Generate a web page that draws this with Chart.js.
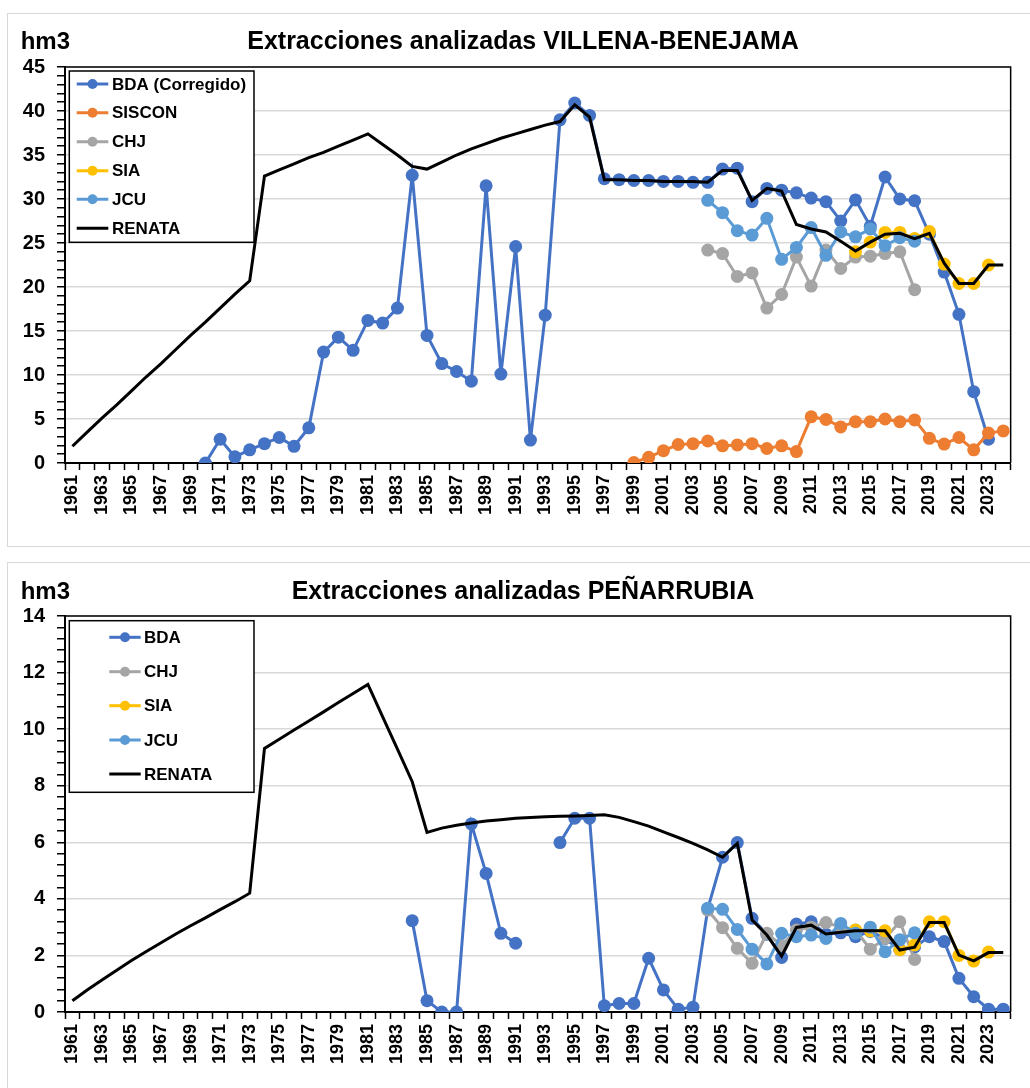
<!DOCTYPE html>
<html><head><meta charset="utf-8">
<script src="https://cdn.jsdelivr.net/npm/chart.js@4.4.1/dist/chart.umd.min.js"></script>
<style>
html,body{margin:0;padding:0;background:#fff;}
body{width:1030px;height:1088px;position:relative;overflow:hidden;}
.frame{position:absolute;border:1.5px solid #d9d9d9;box-sizing:border-box;}
#f1{left:7px;top:13px;width:1040px;height:534px;}
#f2{left:7px;top:562px;width:1040px;height:560px;}
canvas{position:absolute;}
#c1{left:8px;top:14px;}
#c2{left:8px;top:563px;}
</style></head><body>
<div class="frame" id="f1"></div><div class="frame" id="f2"></div>
<canvas id="c1" width="1022" height="532"></canvas>
<canvas id="c2" width="1022" height="525"></canvas>
<script>
// ---------- categories ----------
const years = ['1961','1962','1963','1964','1965','1966','1967','1968','1969','1970',
  '1971','1972','1973','1974','1975','1976','1977','1978','1979','1980',
  '1981','1982','1983','1984','1985','1986','1987','1988','1989','1990',
  '1991','1992','1993','1994','1995','1996','1997','1998','1999','2000',
  '2001','2002','2003','2004','2005','2006','2007','2008','2009','2010',
  '2011','2012','2013','2014','2015','2016','2017','2018','2019','2020',
  '2021','2022','2023','2024'];

// ---------- VILLENA-BENEJAMA series (value lists start at the given year) ----------
const vbTitle = 'Extracciones analizadas VILLENA-BENEJAMA';
const vbYTicksMax = 45;
const vbBDAStart = 1970;
const vbBDA = [0.0, 2.7, 0.7, 1.5, 2.2, 2.9, 1.9, 4.0, 12.6, 14.3, 12.8, 16.2, 15.9, 17.6, 32.7,
  14.5, 11.3, 10.4, 9.3, 31.5, 10.1, 24.6, 2.6, 16.8, 39.0, 40.9, 39.5, 32.3, 32.2, 32.1,
  32.1, 32.0, 32.0, 31.9, 31.9, 33.4, 33.5, 29.7, 31.2, 31.0, 30.7, 30.1, 29.7, 27.5, 29.9,
  26.9, 32.5, 30.0, 29.8, 26.0, 21.7, 16.9, 8.1, 2.7];
const vbSISCONStart = 1999;
const vbSISCON = [0.05, 0.65, 1.4, 2.1, 2.2, 2.5, 1.95, 2.05, 2.2, 1.65, 1.95, 1.3, 5.25, 4.95,
  4.1, 4.7, 4.7, 5.0, 4.7, 4.9, 2.8, 2.15, 2.9, 1.5, 3.4, 3.65];
const vbCHJStart = 2004;
const vbCHJ = [24.2, 23.8, 21.2, 21.6, 17.6, 19.15, 23.4, 20.1, 24.2, 22.1, 23.4, 23.5, 23.8, 24.0, 19.7];
const vbSIAStart = 2014;
const vbSIA = [24.0, 25.1, 26.2, 26.2, 25.5, 26.3, 22.6, 20.4, 20.4, 22.5];
const vbJCUStart = 2004;
const vbJCU = [29.85, 28.45, 26.4, 25.9, 27.8, 23.15, 24.5, 26.75, 23.6, 26.25, 25.7, 26.6, 24.7, 25.6, 25.2];
const vbRENATAStart = 1961;
const vbRENATA = [1.9, 3.5, 5.1, 6.6, 8.2, 9.8, 11.3, 12.9, 14.5, 16.0, 17.6, 19.2, 20.7,
  32.6, 33.3, 34.0, 34.7, 35.3, 36.0, 36.7, 37.4, 36.2, 35.0, 33.7,
  33.4, 34.2, 35.0, 35.7, 36.3, 36.9, 37.4, 37.9, 38.4, 38.8, 40.7, 39.3,
  32.2, 32.2, 32.1, 32.1, 32.0, 32.0, 32.0, 31.9,
  33.25, 33.25, 29.85, 31.2, 30.9, 27.1, 26.6, 26.25, 25.2, 24.1, 25.1, 26.0, 26.1, 25.5, 26.1,
  22.7, 20.4, 20.4, 22.5, 22.5];

// ---------- PEÑARRUBIA series ----------
const pnTitle = 'Extracciones analizadas PEÑARRUBIA';
const pnYTicksMax = 14;
const pnBDAStart = 1984;
const pnBDA = [3.23, 0.4, 0, 0, 6.65, 4.9, 2.78, 2.43, null, null, 5.99, 6.85, 6.85, 0.22, 0.3, 0.3,
  1.9, 0.78, 0.1, 0.17, 3.65, 5.47, 5.99, 3.31, 2.75, 1.93, 3.11, 3.19, 2.75, 2.8, 2.66, 2.85,
  2.6, 2.2, 2.3, 2.66, 2.49, 1.19, 0.54, 0.1, 0.1];
const pnCHJStart = 2004;
const pnCHJ = [3.6, 2.98, 2.25, 1.72, 2.78, 2.35, 2.9, 3.0, 3.16, 3.0, 2.9, 2.22, 2.6, 3.19, 1.86];
const pnSIAStart = 2014;
const pnSIA = [2.9, 2.87, 2.87, 2.2, 2.37, 3.19, 3.19, 2.0, 1.8, 2.12];
const pnJCUStart = 2004;
const pnJCU = [3.67, 3.63, 2.92, 2.22, 1.7, 2.78, 2.66, 2.72, 2.6, 3.13, 2.78, 3.0, 2.13, 2.55, 2.8];
const pnRENATAStart = 1961;
const pnRENATA = [0.40, 0.78, 1.13, 1.48, 1.82, 2.14, 2.45, 2.76, 3.05, 3.33, 3.62, 3.90, 4.20,
  9.32, 9.64, 9.97, 10.29, 10.61, 10.94, 11.26, 11.58, 10.43, 9.29, 8.14,
  6.35, 6.5, 6.6, 6.68, 6.75, 6.8, 6.85, 6.88, 6.9, 6.92, 6.93, 6.95, 6.97,
  6.88, 6.73, 6.57, 6.37, 6.17, 5.96, 5.73, 5.47,
  5.96, 3.25, 2.72, 1.98, 2.99, 3.07, 2.76, 2.82, 2.87, 2.87, 2.87, 2.19, 2.29, 3.16, 3.16,
  2.01, 1.81, 2.1, 2.1];

// ---------- helpers ----------
const FONT = "'Liberation Sans', Arial, sans-serif";
function place(start, vals) {
  const out = years.map(() => null);
  const off = years.indexOf(String(start));
  vals.forEach((v, i) => { out[off + i] = v; });
  return out;
}
function series(label, color, data, order) {
  return {
    label, data, order,
    borderColor: color, backgroundColor: color,
    borderWidth: 3, tension: 0, spanGaps: false,
    pointRadius: 6.5, pointHoverRadius: 6.5, pointBorderWidth: 0,
    pointBackgroundColor: color
  };
}
function renata(data) {
  return { label: 'RENATA', data, order: 0, borderColor: '#000', backgroundColor: '#000',
    borderWidth: 3, tension: 0, pointRadius: 0, pointHoverRadius: 0, isLineOnly: true };
}

function decorPlugin(cfg) {
  return {
    id: 'decor',
    beforeDatasetsDraw(chart) {
      const a = chart.chartArea, ctx = chart.ctx;
      ctx.save();
      ctx.strokeStyle = '#000'; ctx.lineWidth = 1.5;
      ctx.beginPath();
      ctx.moveTo(a.left, a.top); ctx.lineTo(a.right, a.top); ctx.lineTo(a.right, a.bottom);
      ctx.stroke();
      ctx.restore();
    },
    afterDraw(chart) {
      const ctx = chart.ctx;
      ctx.save();
      ctx.fillStyle = '#000';
      ctx.textBaseline = 'alphabetic';
      ctx.font = 'bold 25px ' + FONT;
      ctx.textAlign = 'center';
      ctx.fillText(cfg.title, 515, cfg.titleY);
      ctx.font = 'bold 24px ' + FONT;
      ctx.textAlign = 'left';
      ctx.fillText('hm3', 12.7, cfg.titleY);
      // legend
      const L = cfg.legend;
      ctx.fillStyle = '#fff';
      ctx.fillRect(L.x0, L.y0, L.x1 - L.x0, L.y1 - L.y0);
      ctx.strokeStyle = '#000'; ctx.lineWidth = 1.5;
      ctx.strokeRect(L.x0, L.y0, L.x1 - L.x0, L.y1 - L.y0);
      ctx.font = 'bold 17px ' + FONT;
      ctx.textBaseline = 'middle';
      chart.data.datasets.forEach((ds, i) => {
        const y = L.rows[i];
        ctx.strokeStyle = ds.borderColor;
        ctx.lineWidth = 3;
        ctx.beginPath(); ctx.moveTo(L.lx0, y); ctx.lineTo(L.lx1, y); ctx.stroke();
        if (!ds.isLineOnly) {
          ctx.fillStyle = ds.borderColor;
          ctx.beginPath(); ctx.arc((L.lx0 + L.lx1) / 2, y, 5, 0, Math.PI * 2); ctx.fill();
        }
        ctx.fillStyle = '#000';
        ctx.fillText(ds.label, L.tx, y + 1);
      });
      ctx.restore();
    }
  };
}

function makeChart(id, datasets, yMax, step, majorEvery, xHeight, deco) {
  const isMajor = (v) => Math.abs(v / majorEvery - Math.round(v / majorEvery)) < 1e-6;
  return new Chart(document.getElementById(id), {
    type: 'line',
    data: { labels: years, datasets },
    options: {
      responsive: false, animation: false, events: [],
      layout: { padding: { top: 53, left: 0, right: 17, bottom: 0 } },
      plugins: { legend: { display: false }, tooltip: { enabled: false }, title: { display: false } },
      scales: {
        x: {
          type: 'category', offset: true,
          afterFit(s) { s.height = xHeight; },
          ticks: {
            autoSkip: false, maxRotation: 90, minRotation: 90, padding: 5, color: '#000',
            font: { family: FONT, size: 18, weight: 'bold' },
            callback: function (v, i) { return i % 2 === 0 ? this.getLabelForValue(v) : ''; }
          },
          grid: { offset: true, drawOnChartArea: false, drawTicks: true, tickLength: 7, tickColor: '#000', color: '#000', tickWidth: 1.5 },
          border: { display: true, color: '#000', width: 2 }
        },
        y: {
          min: 0, max: yMax,
          afterFit(s) { s.width = 57; },
          ticks: {
            stepSize: step, autoSkip: false, padding: 12, color: '#000',
            font: { family: FONT, size: 20, weight: 'bold' },
            callback: (v) => isMajor(v) ? String(Math.round(v)) : ''
          },
          grid: {
            color: (c) => (c.tick && isMajor(c.tick.value)) ? '#d9d9d9' : 'rgba(0,0,0,0)',
            lineWidth: 1.5, drawTicks: true, tickLength: 8, tickColor: '#000', tickWidth: 1.5
          },
          border: { display: true, color: '#000', width: 2 }
        }
      }
    },
    plugins: [decoPlugin(deco)]
  });
}
function decoPlugin(d) { return decorPlugin(d); }

// ---------- chart 1 ----------
makeChart('c1', [
  series('BDA (Corregido)', '#4472C4', place(vbBDAStart, vbBDA), 5),
  series('SISCON', '#ED7D31', place(vbSISCONStart, vbSISCON), 4),
  series('CHJ', '#A5A5A5', place(vbCHJStart, vbCHJ), 3),
  series('SIA', '#FFC000', place(vbSIAStart, vbSIA), 2),
  series('JCU', '#5B9BD5', place(vbJCUStart, vbJCU), 1),
  renata(place(vbRENATAStart, vbRENATA))
], vbYTicksMax, 1, 5, 83, {
  title: vbTitle, titleY: 35.3,
  legend: { x0: 61.3, y0: 57, x1: 246, y1: 228.3, lx0: 68.7, lx1: 100.3, tx: 104,
    rows: [70, 98.7, 127.7, 156.7, 185.3, 214.3] }
});

// ---------- chart 2 ----------
makeChart('c2', [
  series('BDA', '#4472C4', place(pnBDAStart, pnBDA), 5),
  series('CHJ', '#A5A5A5', place(pnCHJStart, pnCHJ), 3),
  series('SIA', '#FFC000', place(pnSIAStart, pnSIA), 2),
  series('JCU', '#5B9BD5', place(pnJCUStart, pnJCU), 1),
  renata(place(pnRENATAStart, pnRENATA))
], pnYTicksMax, 0.4, 2, 76, {
  title: pnTitle, titleY: 36.3,
  legend: { x0: 61.3, y0: 57.7, x1: 246, y1: 229.3, lx0: 101.3, lx1: 132.7, tx: 136,
    rows: [74.3, 108.7, 142.7, 177, 211] }
});
</script></body></html>
